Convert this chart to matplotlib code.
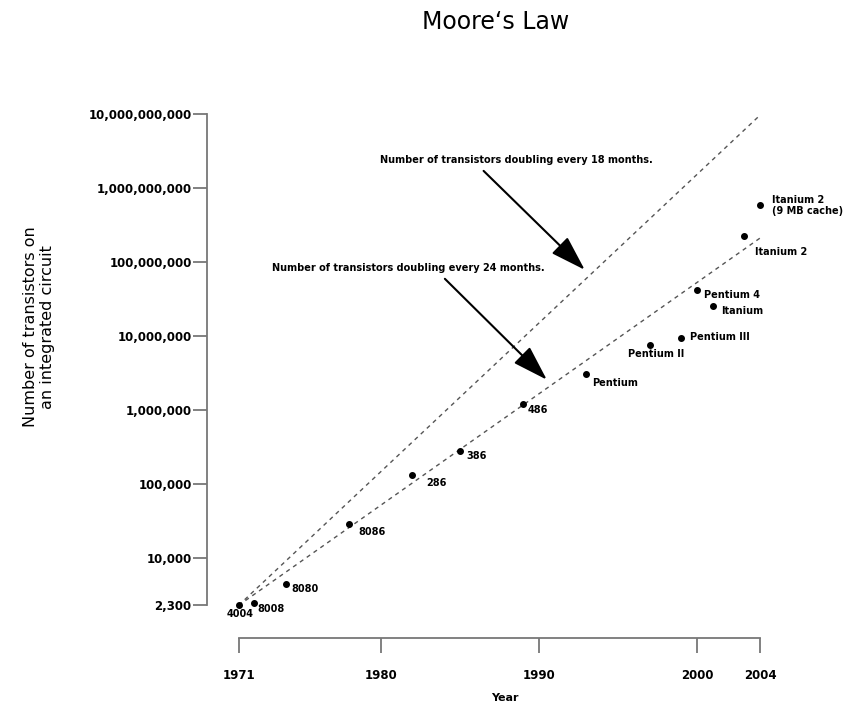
import matplotlib

matplotlib.use("Agg")
import matplotlib.pyplot as plt
from matplotlib.ticker import FixedLocator

# Intel processors
chips = [
    "4004", "8008", "8080", "8086", "286", "386", "486", "Pentium",
    "Pentium II", "Pentium III", "Pentium 4", "Itanium", "Itanium 2",
    "Itanium 2\n(9 MB cache)",
]
years = [1971, 1972, 1974, 1978, 1982, 1985, 1989, 1993,
         1997, 1999, 2000, 2001, 2003, 2004]
transistors = [2300, 2500, 4500, 29000, 134000, 275000, 1200000, 3100000,
               7500000, 9500000, 42000000, 25000000, 220000000, 592000000]

# trend lines (end points)
trend_years = [1971, 2004]
trend_18 = [2300, 9.6e9]
trend_24 = [2300, 2.1e8]

x_ticks = [1971, 1980, 1990, 2000, 2004]
y_ticks = [2300, 1e4, 1e5, 1e6, 1e7, 1e8, 1e9, 1e10]

# label offsets in pixels: (dx, dy down, ha)
offsets = [
    (2, 9, "center"), (3, 6, "left"), (5, 5, "left"), (9, 8, "left"),
    (14, 8, "left"), (6, 5, "left"), (5, 6, "left"), (6, 9, "left"),
    (-22, 9, "left"), (9, -1, "left"), (7, 5, "left"), (8, 5, "left"),
    (11, 16, "left"), (12, 1, "left"),
]

W, H = 846, 707
fig = plt.figure(figsize=(W / 100, H / 100), dpi=100)
ax = fig.add_axes([207 / W, 1 - 638 / H, 569 / W, 528 / H])

ax.set_yscale("log")
ax.set_xlim(1969, 2005)
ax.set_ylim(10 ** 2.921, 10 ** 10.05)

# trend lines
for vals in (trend_18, trend_24):
    ax.plot(
        trend_years,
        vals,
        color="#555555",
        linewidth=1,
        linestyle=(0, (3, 3)),
    )

ax.plot(years, transistors, "o", color="black", markersize=4)

px = 0.72  # points per pixel
for name, x, y, (dx, dy, ha) in zip(chips, years, transistors, offsets):
    ax.annotate(
        name,
        (x, y),
        xytext=(dx * px, -dy * px),
        textcoords="offset points",
        ha=ha,
        va="center",
        fontsize=7,
        fontweight="bold",
        multialignment="left",
    )

# arrows with notes
arrow_kw = dict(
    arrowstyle="-|>,head_length=2.2,head_width=0.7",
    color="black",
    linewidth=1.5,
    mutation_scale=10,
    shrinkA=0,
    shrinkB=0,
)
ax.annotate("", xy=(1992.9, 7.8e7), xytext=(1986.5, 1.69e9),
            arrowprops=arrow_kw)
ax.annotate("", xy=(1990.5, 2.56e6), xytext=(1984.05, 5.9e7),
            arrowprops=arrow_kw)
ax.text(1988.57, 2.37e9, "Number of transistors doubling every 18 months.",
        ha="center", va="center", fontsize=7, fontweight="bold")
ax.text(1981.73, 8.3e7, "Number of transistors doubling every 24 months.",
        ha="center", va="center", fontsize=7, fontweight="bold")

# axes styling
for side in ("top", "right"):
    ax.spines[side].set_visible(False)
for side in ("left", "bottom"):
    ax.spines[side].set_color("#777777")
    ax.spines[side].set_linewidth(1.3)
ax.spines["left"].set_bounds(2300, 1e10)
ax.spines["bottom"].set_bounds(1971, 2004)

ax.set_xticks(x_ticks)
ax.set_xticklabels([str(t) for t in x_ticks], fontweight="bold", fontsize=8.5)
ax.yaxis.set_major_locator(FixedLocator(y_ticks))
ax.yaxis.set_minor_locator(FixedLocator([]))
ax.set_yticklabels([f"{int(t):,}" for t in y_ticks], fontweight="bold",
                   fontsize=8.5)
ax.tick_params(axis="x", direction="out", length=11, width=1.3,
               color="#777777", pad=11)
ax.tick_params(axis="y", direction="out", length=10, width=1.3,
               color="#777777", pad=1)

fig.text(496 / W, 1 - 22 / H, "Moore\u2018s Law", ha="center", va="center",
         fontsize=17)
fig.text(39 / W, 1 - 327 / H, "Number of transistors on\nan integrated circuit",
         rotation=90, ha="center", va="center", fontsize=11.5,
         multialignment="center")
fig.text(505 / W, 1 - 698 / H, "Year", ha="center", va="center",
         fontsize=8, fontweight="bold")

fig.savefig("out.png", dpi=100)
